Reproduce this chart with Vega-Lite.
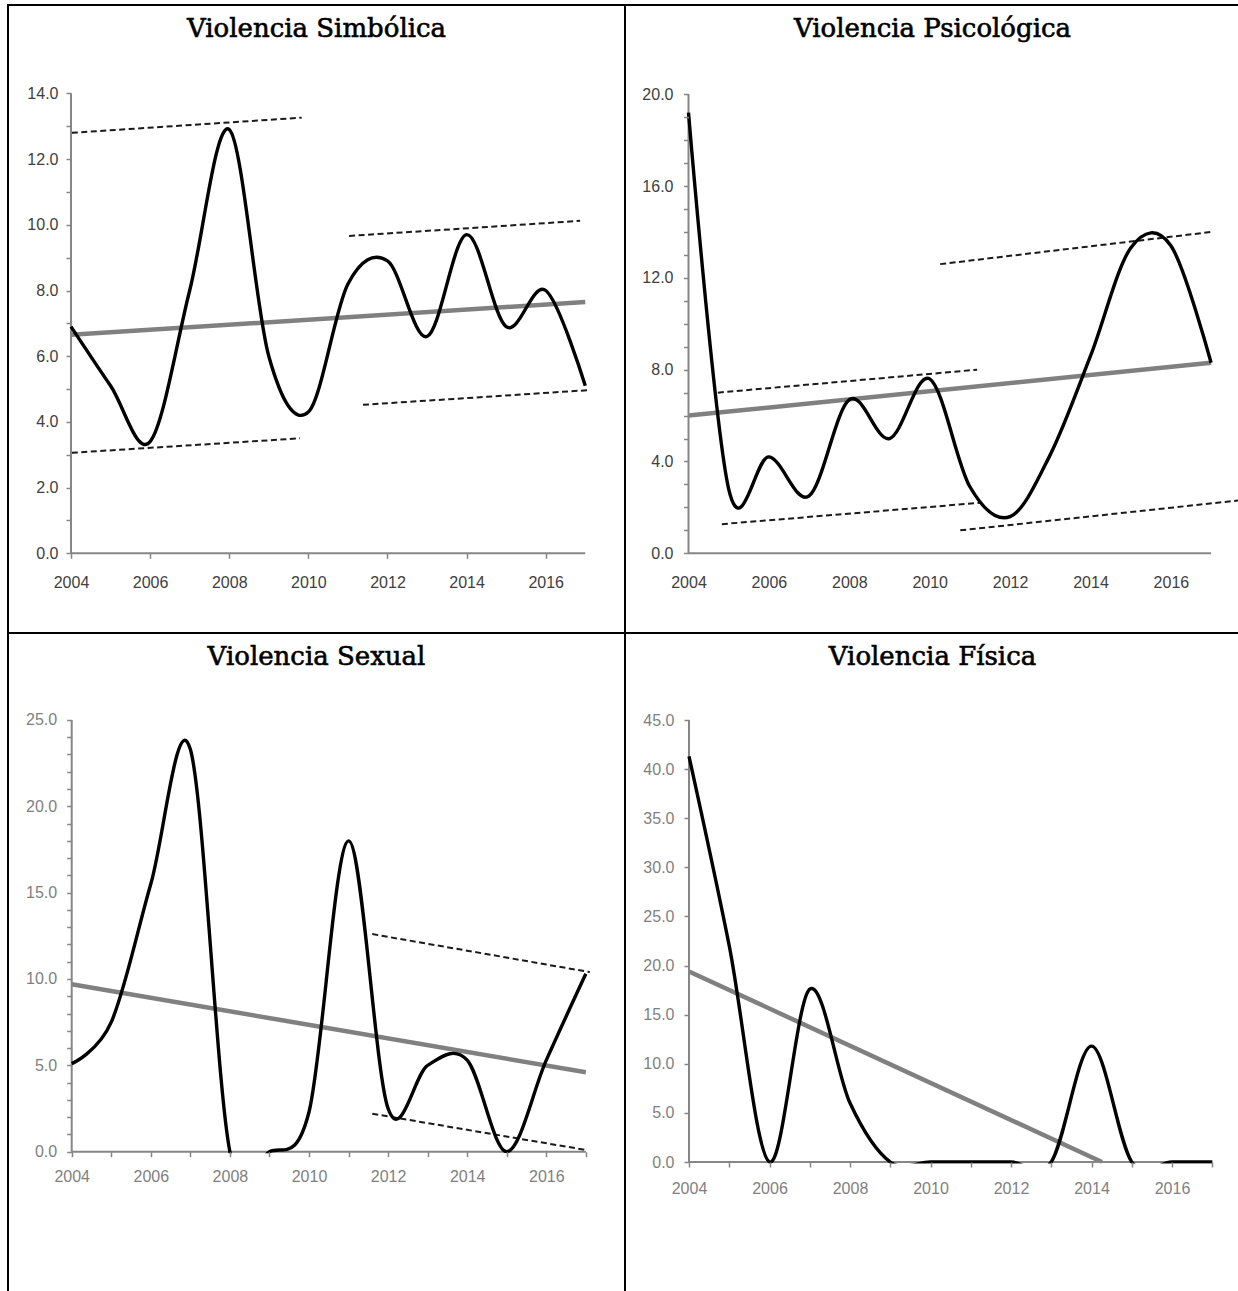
{
  "$schema": "https://vega.github.io/schema/vega-lite/v6.json",
  "padding": {"left": 7, "top": 4, "right": 0, "bottom": 0},
  "background": "white",
  "spacing": 0,
  "bounds": "flush",
  "columns": 2,
  "config": {
    "view": {"stroke": "black", "strokeWidth": 2},
    "title": {"font": "DejaVu Serif", "fontSize": 26, "fontWeight": "normal", "color": "#000000", "frame": "group", "anchor": "middle", "baseline": "alphabetic", "offset": -37},
    "style": {"group-title": {"stroke": "#000000", "strokeWidth": 0.6}},
    "axis": {"grid": false, "domain": false, "title": null, "labelFont": "Liberation Sans", "labelFontSize": 16, "tickColor": "#868686", "tickWidth": 1.5, "tickSize": 5, "labelOverlap": false, "labelFlush": false}
  },
  "concat": [
        {
          "width": 617, "height": 628,
          "title": {"text": "Violencia Simbólica"},
          "encoding": {
            "x": {"field": "year", "type": "quantitative", "scale": {"domain": [2002.4075, 2018.0041], "nice": false, "zero": false},
              "axis": {"zindex": 2, "orient": "bottom", "offset": -79.7, "values": [2004, 2006, 2008, 2010, 2012, 2014, 2016], "format": "d", "labelPadding": 16.4, "labelColor": "#404040"}},
            "y": {"field": "value", "type": "quantitative", "scale": {"domain": [-2.426, 16.691], "nice": false, "zero": false},
              "axis": {"zindex": 2, "orient": "left", "offset": -63, "values": [0,1,2,3,4,5,6,7,8,9,10,11,12,13,14], "labelExpr": "datum.value % 2 == 0 ? format(datum.value, '.1f') : ''", "labelPadding": 8, "labelColor": "#404040"}}
          },
          "layer": [
            {"data": {"values": [
              {"seg": "a", "year": 2004.02, "value": 12.8}, {"seg": "a", "year": 2009.83, "value": 13.26},
              {"seg": "b", "year": 2004.02, "value": 3.06}, {"seg": "b", "year": 2009.79, "value": 3.5},
              {"seg": "c", "year": 2011.03, "value": 9.66}, {"seg": "c", "year": 2016.87, "value": 10.12},
              {"seg": "d", "year": 2011.38, "value": 4.52}, {"seg": "d", "year": 2017.12, "value": 4.97}]},
             "mark": {"type": "line", "strokeDash": [6, 3.5], "strokeWidth": 2, "color": "#1a1a1a"},
             "encoding": {"detail": {"field": "seg"}}},
            {"data": {"values": [{"year": 2004, "value": 6.65}, {"year": 2017, "value": 7.65}]},
             "mark": {"type": "line", "strokeWidth": 4.5, "color": "#808080"}},
            {"data": {"values": [{"year": 2004, "year2": 2017, "value": 0}]},
             "mark": {"type": "rule", "strokeWidth": 2, "color": "#868686"},
             "encoding": {"x2": {"field": "year2"}}},
            {"data": {"values": [{"year": 2004, "value": 0, "value2": 14}]},
             "mark": {"type": "rule", "strokeWidth": 2, "color": "#868686"},
             "encoding": {"y2": {"field": "value2"}}},
            {"data": {"values": [
              {"year": 2004, "value": 6.9}, {"year": 2005, "value": 5.1}, {"year": 2006, "value": 3.4}, {"year": 2007, "value": 8.0},
              {"year": 2008, "value": 12.9}, {"year": 2009, "value": 6.0}, {"year": 2010, "value": 4.3}, {"year": 2011, "value": 8.2},
              {"year": 2012, "value": 8.9}, {"year": 2013, "value": 6.6}, {"year": 2014, "value": 9.7}, {"year": 2015, "value": 6.9},
              {"year": 2016, "value": 8.0}, {"year": 2017, "value": 5.1}]},
             "mark": {"type": "line", "interpolate": "cardinal", "strokeWidth": 3.4, "color": "#000000"}},
            {"data": {"values": [{"year": 2004, "year2": 2017, "value": -2.426, "value2": -0.049}]},
             "mark": {"type": "rect", "color": "white", "opacity": 1},
             "encoding": {"x2": {"field": "year2"}, "y2": {"field": "value2"}}}
          ]
        },
        {
          "width": 615, "height": 628,
          "title": {"text": "Violencia Psicológica"},
          "encoding": {
            "x": {"field": "year", "type": "quantitative", "scale": {"domain": [2002.4204, 2017.7189], "nice": false, "zero": false},
              "axis": {"zindex": 2, "orient": "bottom", "offset": -79.7, "values": [2004, 2006, 2008, 2010, 2012, 2014, 2016], "format": "d", "labelPadding": 16.4, "tickOpacity": 0, "labelColor": "#404040"}},
            "y": {"field": "value", "type": "quantitative", "scale": {"domain": [-3.4728, 23.8911], "nice": false, "zero": false},
              "axis": {"zindex": 2, "orient": "left", "offset": -63.5, "values": [0,1,2,3,4,5,6,7,8,9,10,11,12,13,14,15,16,17,18,19,20], "labelExpr": "datum.value % 4 == 0 ? format(datum.value, '.1f') : ''", "labelPadding": 10.5, "labelColor": "#404040"}}
          },
          "layer": [
            {"data": {"values": [
              {"seg": "a", "year": 2004.73, "value": 7.0}, {"seg": "a", "year": 2011.18, "value": 8.0},
              {"seg": "b", "year": 2004.83, "value": 1.27}, {"seg": "b", "year": 2011.25, "value": 2.2},
              {"seg": "c", "year": 2010.26, "value": 12.6}, {"seg": "c", "year": 2017.0, "value": 14.0},
              {"seg": "d", "year": 2010.76, "value": 1.0}, {"seg": "d", "year": 2017.67, "value": 2.3}]},
             "mark": {"type": "line", "strokeDash": [6, 3.5], "strokeWidth": 2, "color": "#1a1a1a"},
             "encoding": {"detail": {"field": "seg"}}},
            {"data": {"values": [{"year": 2004, "value": 6.0}, {"year": 2017, "value": 8.3}]},
             "mark": {"type": "line", "strokeWidth": 4.5, "color": "#808080"}},
            {"data": {"values": [{"year": 2004, "year2": 2017, "value": 0}]},
             "mark": {"type": "rule", "strokeWidth": 2, "color": "#868686"},
             "encoding": {"x2": {"field": "year2"}}},
            {"data": {"values": [{"year": 2004, "value": 0, "value2": 20}]},
             "mark": {"type": "rule", "strokeWidth": 2, "color": "#868686"},
             "encoding": {"y2": {"field": "value2"}}},
            {"data": {"values": [
              {"year": 2004, "value": 19.2}, {"year": 2005, "value": 2.8}, {"year": 2006, "value": 4.2}, {"year": 2007, "value": 2.5},
              {"year": 2008, "value": 6.7}, {"year": 2009, "value": 5.0}, {"year": 2010, "value": 7.6}, {"year": 2011, "value": 2.9},
              {"year": 2012, "value": 1.6}, {"year": 2013, "value": 4.3}, {"year": 2014, "value": 8.6}, {"year": 2015, "value": 13.3},
              {"year": 2016, "value": 13.4}, {"year": 2017, "value": 8.3}]},
             "mark": {"type": "line", "interpolate": "cardinal", "strokeWidth": 3.4, "color": "#000000"}},
            {"data": {"values": [{"year": 2004, "year2": 2017, "value": -3.4728, "value2": -0.07}]},
             "mark": {"type": "rect", "color": "white", "opacity": 1},
             "encoding": {"x2": {"field": "year2"}, "y2": {"field": "value2"}}}
          ]
        },
        {
          "width": 617, "height": 660,
          "title": {"text": "Violencia Sexual"},
          "encoding": {
            "x": {"field": "year", "type": "quantitative", "scale": {"domain": [2002.3894, 2017.9899], "nice": false, "zero": false},
              "axis": {"zindex": 2, "orient": "bottom", "offset": -141.3, "values": [2004,2005,2006,2007,2008,2009,2010,2011,2012,2013,2014,2015,2016,2017], "labelExpr": "datum.value % 2 == 0 ? format(datum.value, 'd') : ''", "labelPadding": 12, "labelColor": "#7f7f7f"}},
            "y": {"field": "value", "type": "quantitative", "scale": {"domain": [-8.1818, 30.0347], "nice": false, "zero": false},
              "axis": {"zindex": 2, "orient": "left", "offset": -63.7, "values": [0,1,2,3,4,5,6,7,8,9,10,11,12,13,14,15,16,17,18,19,20,21,22,23,24,25], "labelExpr": "datum.value % 5 == 0 ? format(datum.value, '.1f') : ''", "labelPadding": 10, "labelColor": "#7f7f7f"}}
          },
          "layer": [
            {"data": {"values": [
              {"seg": "a", "year": 2011.6, "value": 12.6}, {"seg": "a", "year": 2017.1, "value": 10.4},
              {"seg": "b", "year": 2011.6, "value": 2.2}, {"seg": "b", "year": 2017.0, "value": 0.1}]},
             "mark": {"type": "line", "strokeDash": [6, 3.5], "strokeWidth": 2, "color": "#1a1a1a"},
             "encoding": {"detail": {"field": "seg"}}},
            {"data": {"values": [{"year": 2004, "value": 9.7}, {"year": 2017, "value": 4.6}]},
             "mark": {"type": "line", "strokeWidth": 4.5, "color": "#808080"}},
            {"data": {"values": [{"year": 2004, "year2": 2017, "value": 0}]},
             "mark": {"type": "rule", "strokeWidth": 2, "color": "#868686"},
             "encoding": {"x2": {"field": "year2"}}},
            {"data": {"values": [{"year": 2004, "value": 0, "value2": 25}]},
             "mark": {"type": "rule", "strokeWidth": 2, "color": "#868686"},
             "encoding": {"y2": {"field": "value2"}}},
            {"data": {"values": [
              {"year": 2004, "value": 5.1}, {"year": 2005, "value": 7.5}, {"year": 2006, "value": 15.5}, {"year": 2007, "value": 23.3},
              {"year": 2008, "value": 0}, {"year": 2009, "value": 0}, {"year": 2010, "value": 2.3}, {"year": 2011, "value": 18.0},
              {"year": 2012, "value": 2.5}, {"year": 2013, "value": 5.0}, {"year": 2014, "value": 5.3}, {"year": 2015, "value": 0},
              {"year": 2016, "value": 5.3}, {"year": 2017, "value": 10.3}]},
             "mark": {"type": "line", "interpolate": "cardinal", "strokeWidth": 3.4, "color": "#000000"}},
            {"data": {"values": [{"year": 2004, "year2": 2017, "value": -8.1818, "value2": -0.093}]},
             "mark": {"type": "rect", "color": "white", "opacity": 1},
             "encoding": {"x2": {"field": "year2"}, "y2": {"field": "value2"}}}
          ]
        },
        {
          "width": 615, "height": 660,
          "title": {"text": "Violencia Física"},
          "encoding": {
            "x": {"field": "year", "type": "quantitative", "scale": {"domain": [2002.4099, 2017.6894], "nice": false, "zero": false},
              "axis": {"zindex": 2, "orient": "bottom", "offset": -131, "values": [2004,2005,2006,2007,2008,2009,2010,2011,2012,2013,2014,2015,2016,2017], "labelExpr": "datum.value % 2 == 0 ? format(datum.value, 'd') : ''", "labelPadding": 13.2, "labelColor": "#7f7f7f"}},
            "y": {"field": "value", "type": "quantitative", "scale": {"domain": [-13.3374, 53.8587], "nice": false, "zero": false},
              "axis": {"zindex": 2, "orient": "left", "offset": -64, "values": [0,5,10,15,20,25,30,35,40,45], "format": ".1f", "labelPadding": 10, "labelColor": "#7f7f7f"}}
          },
          "layer": [
            {"data": {"values": [{"year": 2004, "value": 19.4}, {"year": 2014.26, "value": 0}]},
             "mark": {"type": "line", "strokeWidth": 4.5, "color": "#808080"}},
            {"data": {"values": [{"year": 2004, "year2": 2017, "value": 0}]},
             "mark": {"type": "rule", "strokeWidth": 2, "color": "#868686"},
             "encoding": {"x2": {"field": "year2"}}},
            {"data": {"values": [{"year": 2004, "value": 0, "value2": 45}]},
             "mark": {"type": "rule", "strokeWidth": 2, "color": "#868686"},
             "encoding": {"y2": {"field": "value2"}}},
            {"data": {"values": [
              {"year": 2004, "value": 41.3}, {"year": 2005, "value": 22.0}, {"year": 2006, "value": 0}, {"year": 2007, "value": 17.6},
              {"year": 2008, "value": 6.0}, {"year": 2009, "value": 0}, {"year": 2010, "value": 0}, {"year": 2011, "value": 0},
              {"year": 2012, "value": 0}, {"year": 2013, "value": 0}, {"year": 2014, "value": 11.8}, {"year": 2015, "value": 0},
              {"year": 2016, "value": 0}, {"year": 2017, "value": 0}]},
             "mark": {"type": "line", "interpolate": "cardinal", "strokeWidth": 3.4, "color": "#000000"}},
            {"data": {"values": [{"year": 2004, "year2": 2017, "value": -13.3374, "value2": -0.163}]},
             "mark": {"type": "rect", "color": "white", "opacity": 1},
             "encoding": {"x2": {"field": "year2"}, "y2": {"field": "value2"}}}
          ]
        }
  ]
}
